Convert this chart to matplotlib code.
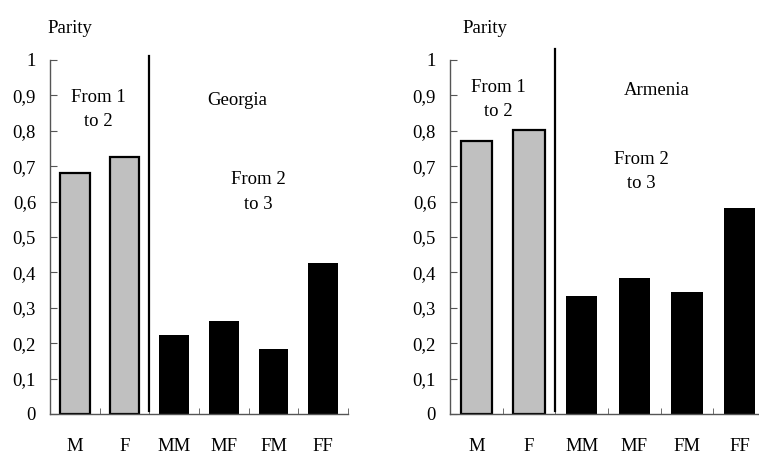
import matplotlib.pyplot as plt
import numpy as np

plt.rcParams['font.family'] = ['Liberation Serif', 'DejaVu Serif']
plt.rcParams['font.size'] = 13.5

categories = ["M", "F", "MM", "MF", "FM", "FF"]
georgia = [0.681, 0.726, 0.223, 0.263, 0.184, 0.427]
armenia = [0.772, 0.802, 0.334, 0.385, 0.345, 0.582]
bar_colors = ["#c0c0c0", "#c0c0c0", "black", "black", "black", "black"]
yticks = [0, 0.1, 0.2, 0.3, 0.4, 0.5, 0.6, 0.7, 0.8, 0.9, 1]
ylabels = ["0", "0,1", "0,2", "0,3", "0,4", "0,5", "0,6", "0,7", "0,8", "0,9", "1"]

fig = plt.figure(figsize=(7.59, 4.54), dpi=100)
W, H = 759, 454


def panel(rect, values, country, country_xy, t1_xy, t2_xy, parity_x, line_top):
    x0, x1, ytop, ybot = rect
    ax = fig.add_axes([x0 / W, 1 - ybot / H, (x1 - x0) / W, (ybot - ytop) / H])
    x = np.arange(len(categories))
    for i, v in enumerate(values):
        edge = "black" if i < 2 else "none"
        ax.bar(x[i], v, width=0.6, color=bar_colors[i], edgecolor=edge,
               linewidth=1.6 if i < 2 else 0)
    ax.plot([1.5, 1.5], [0.008, line_top], color="black", lw=1.6, clip_on=False)
    ax.set_xlim(-0.5, 5.5)
    ax.set_ylim(0, 1)
    ax.set_yticks(yticks)
    ax.set_yticklabels(ylabels)
    ax.set_xticks(x)
    ax.set_xticklabels(categories)
    ax.set_xticks(np.arange(0.5, 6.0, 1.0), minor=True)
    ax.tick_params(axis="x", which="major", length=0, pad=17)
    ax.tick_params(axis="x", which="minor", direction="in", length=4,
                   color="#555555")
    ax.tick_params(axis="y", direction="in", length=5, pad=10, color="#555555")
    for s in ["top", "right"]:
        ax.spines[s].set_visible(False)
    for s in ["left", "bottom"]:
        ax.spines[s].set_color("#555555")
        ax.spines[s].set_linewidth(1.0)
    ax.text(t1_xy[0], t1_xy[1], "From 1\nto 2", ha="center", va="center",
            linespacing=1.55)
    ax.text(country_xy[0], country_xy[1], country, ha="center", va="center")
    ax.text(t2_xy[0], t2_xy[1], "From 2\nto 3", ha="center", va="center",
            linespacing=1.55)
    ax.text(parity_x, 1.09, "Parity", ha="center", va="center",
            transform=ax.get_xaxis_transform())
    return ax


panel((50, 348, 60, 414), georgia, "Georgia", (3.28, 0.887), (0.47, 0.86),
      (3.69, 0.627), -0.1, 1.01)
ax2 = panel((450, 766, 60, 414), armenia, "Armenia", (3.42, 0.915),
            (0.41, 0.888), (3.14, 0.685), 0.16, 1.03)

fig.savefig("out.png", dpi=100)
